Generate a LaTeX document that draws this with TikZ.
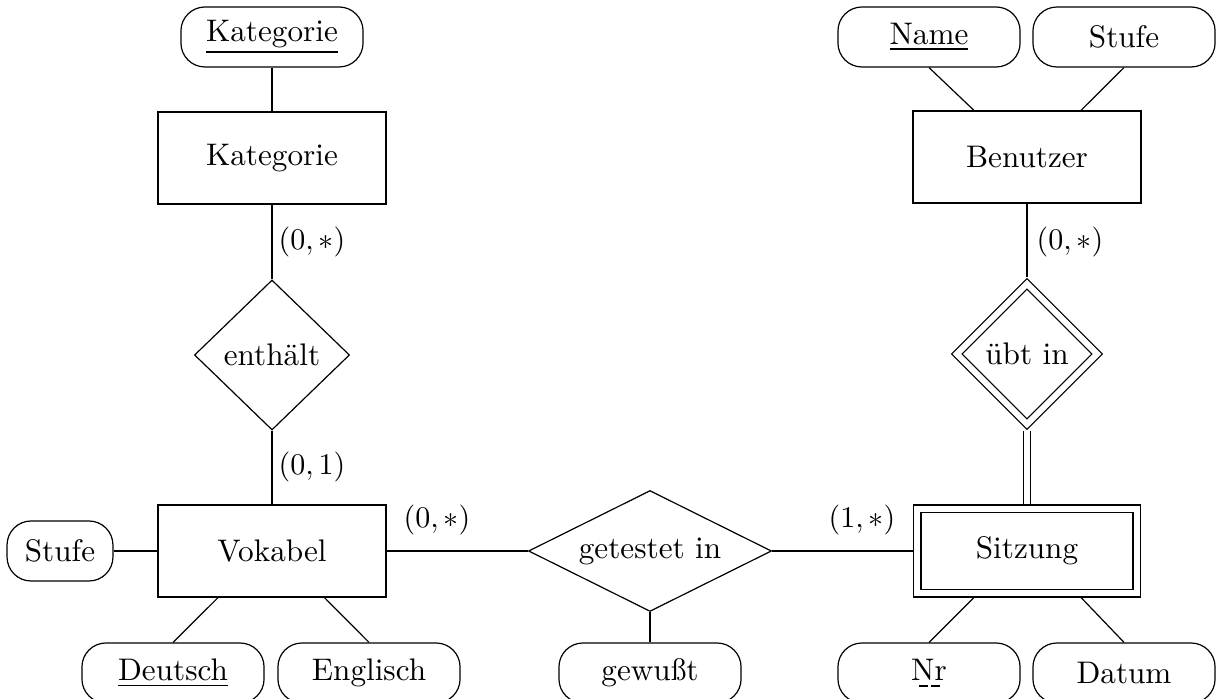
\documentclass[tikz,border=0pt]{standalone}
\usepackage{tikz}
\usetikzlibrary{shapes.geometric, calc, positioning}
\newsavebox{\keybox}
\newcommand{\partialkey}[1]{\savebox{\keybox}{#1}\rlap{\usebox{\keybox}}\raisebox{-2pt}{\hbox to\wd\keybox{\cleaders\hbox to 4pt{\hfil\rule{3pt}{0.4pt}\hfil}\hfill}}}
\tikzset{
	entity/.style={draw, rectangle, minimum width=76pt, minimum height=30.7pt, inner sep=0pt},
	weakentity/.style={entity, double, double distance=2.2pt, minimum width=73.3pt, minimum height=28pt, outer sep=1.5pt},
	attr/.style={draw, rectangle, rounded corners=8pt, minimum width=60.7pt, minimum height=20pt},
	rel/.style={draw, diamond, shape aspect=2, inner sep=0pt},
	weakrel/.style={rel, double, double distance=2pt, outer sep=1.5pt},
	card/.style={inner sep=0pt}
}
\begin{document}
\begin{tikzpicture}[x=0.3333pt, y=-0.3333pt, font=\fontsize{10.4pt}{12.5pt}\selectfont]
			\useasboundingbox (0,0) rectangle (1220,699);
			% Vokabel side
			\node[attr] (katkey) at (272,37) {\underline{Kategorie}};
			\node[entity] (kategorie) at (272,158) {Kategorie};
			\node[rel, minimum width=51.7pt, minimum height=50pt] (enthaelt) at (272,355) {enthält};
			\node[entity] (vokabel) at (272,551) {Vokabel};
			\node[attr, minimum width=35.3pt] (vokstufe) at (60,551) {Stufe};
			\node[attr] (deutsch) at (173,673) {\underline{Deutsch}};
			\node[attr] (englisch) at (369,673) {Englisch};
			% test relation
			\node[rel, minimum width=81pt, minimum height=40.3pt] (getestet) at (650,551) {getestet in};
			\node[attr] (gewusst) at (650,673) {gewußt};
			% Benutzer side
			\node[weakentity] (sitzung) at (1027,551) {Sitzung};
			\node[attr] (nr) at (929,673) {\partialkey{Nr}};
			\node[attr] (datum) at (1124,673) {Datum};
			\node[weakrel, minimum width=48pt, minimum height=48pt] (uebt) at (1027,354) {übt in};
			\node[entity] (benutzer) at (1027,157) {Benutzer};
			\node[attr] (name) at (929,37) {\underline{Name}};
			\node[attr] (benstufe) at (1124,37) {Stufe};
			% cardinalities
			\node[card] (cardkat) at (312,242) {$(0,*)$};
			\node[card] (cardvokrel) at (312,467) {$(0,1)$};
			\node[card] (cardvok) at (437,520) {$(0,*)$};
			\node[card] (cardsitz) at (862,520) {$(1,*)$};
			\node[card] (cardben) at (1070,242) {$(0,*)$};
			% connectors
			\draw (katkey) -- (kategorie);
			\draw (kategorie) -- (enthaelt) -- (vokabel);
			\draw (vokstufe) -- (vokabel);
			\draw (deutsch.north) -- ([xshift=-18pt]vokabel.south);
			\draw (englisch.north) -- ([xshift=17.5pt]vokabel.south);
			\draw (vokabel) -- (getestet) -- (sitzung);
			\draw (getestet) -- (gewusst);
			\draw (nr.north) -- ([xshift=-17.7pt]sitzung.south);
			\draw (datum.north) -- ([xshift=18pt]sitzung.south);
			\draw (benutzer) -- (uebt);
			\draw[double, double distance=2pt] (uebt) -- (sitzung);
			\draw (name.south) -- ([xshift=-17.7pt]benutzer.north);
			\draw (benstufe.south) -- ([xshift=18pt]benutzer.north);
		\end{tikzpicture}
\end{document}
